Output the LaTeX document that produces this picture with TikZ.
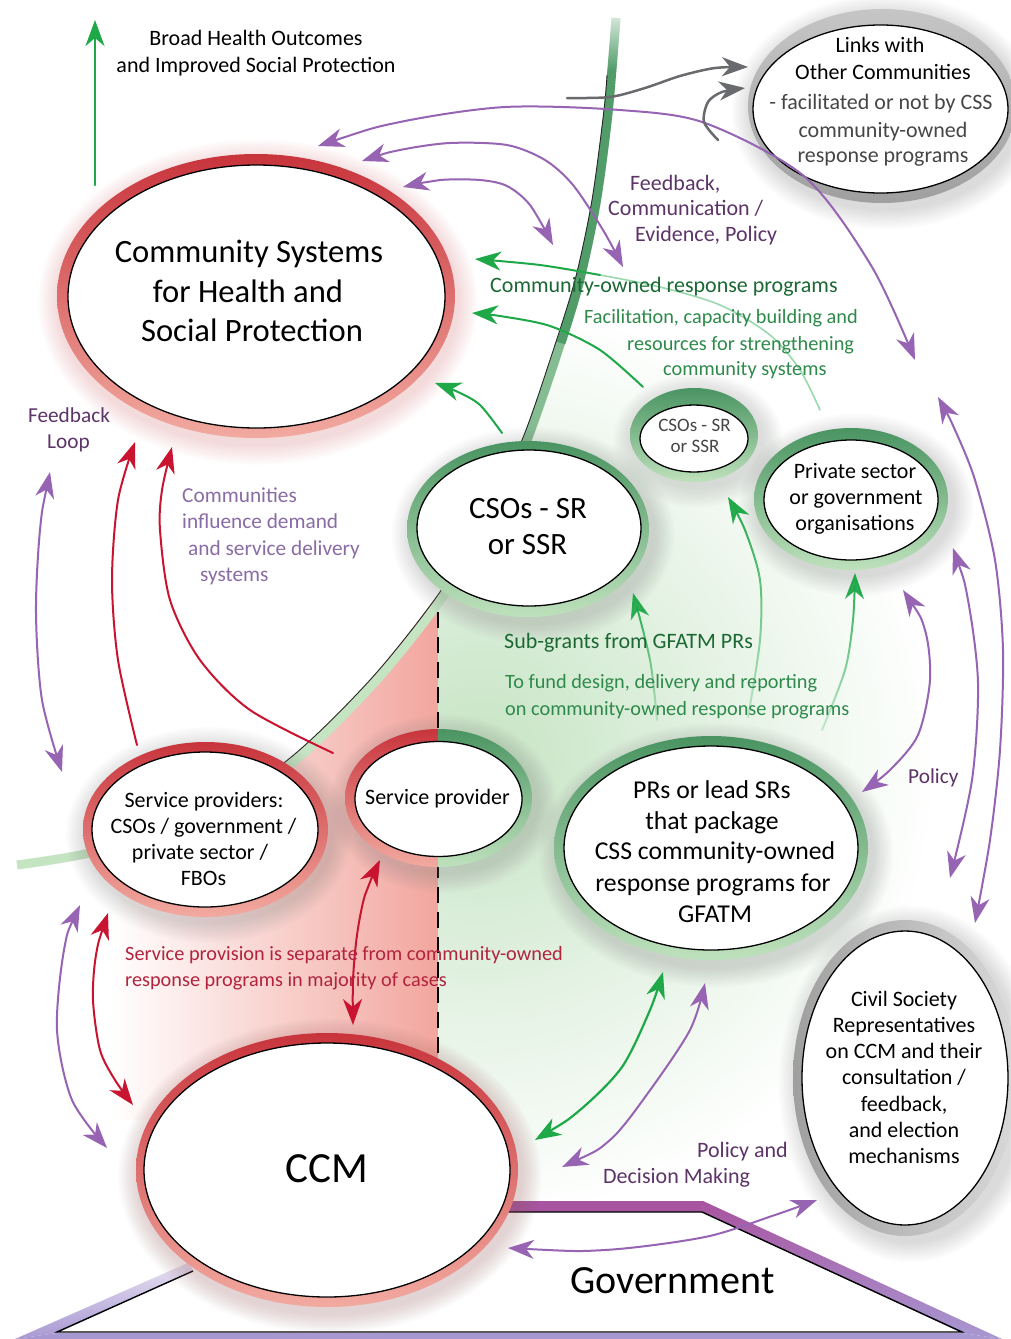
\documentclass[tikz,border=0pt]{standalone}
\usepackage{fontspec}
\setmainfont{Carlito}
\usetikzlibrary{arrows.meta,fadings,shapes.geometric}
\definecolor{agreen}{RGB}{30,168,72}
\definecolor{apurple}{RGB}{150,100,178}
\definecolor{ared}{RGB}{200,20,48}
\definecolor{agray}{RGB}{105,106,110}
\definecolor{tpurple}{RGB}{92,52,104}
\definecolor{tlpurple}{RGB}{138,108,165}
\definecolor{tdgreen}{RGB}{28,104,52}
\definecolor{tgreen}{RGB}{46,138,74}
\definecolor{tred}{RGB}{178,36,62}
\definecolor{tgray}{RGB}{70,70,72}
\definecolor{rdred}{RGB}{200,52,60}
\definecolor{rmid}{RGB}{248,214,200}
\definecolor{rpink}{RGB}{242,170,160}
\definecolor{gdark}{RGB}{74,148,98}
\definecolor{gmid}{RGB}{222,240,218}
\definecolor{gpale}{RGB}{190,225,188}
\definecolor{bandg}{RGB}{196,228,194}
\definecolor{bandgd}{RGB}{82,156,106}
\definecolor{govtop}{RGB}{168,84,160}
\definecolor{govlav}{RGB}{168,152,210}
\definecolor{govpale}{RGB}{232,226,242}
\definecolor{bggreen}{RGB}{198,228,196}
\definecolor{bgsalmon}{RGB}{242,166,158}
\definecolor{bgpeach}{RGB}{250,224,208}
\tikzfading[name=fadebase, top color=transparent!0, bottom color=transparent!80]
\tikzfading[name=topopaque, top color=transparent!0, bottom color=transparent!100]
\newcommand{\myglow}[6]{%
  \foreach \k in {1,...,12}{%
    \pgfmathsetmacro\grx{#3+1.7*\k}%
    \pgfmathsetmacro\gry{#4+1.7*\k}%
    \fill[#5, opacity=#6] (#1,#2) ellipse [x radius=\grx pt, y radius=\gry pt];}}
\tikzset{
  ln/.style={line width=2pt, line cap=round},
  onehead/.style={-{Stealth[length=26pt,width=19pt,inset=8pt]}},
  twohead/.style={{Stealth[length=26pt,width=19pt,inset=8pt]}-{Stealth[length=26pt,width=19pt,inset=8pt]}},
  ringell/.style={ellipse, inner sep=0pt, draw=none},
  redring/.style={top color=rdred, middle color=rmid, bottom color=rpink},
  greenring/.style={top color=gdark, middle color=gmid, bottom color=gpale},
  innerell/.style={ellipse, inner sep=0pt, fill=white, draw=black, line width=1.3pt},
  lbl/.style={inner sep=0pt, anchor=base},
  lblw/.style={inner sep=0pt, anchor=base west},
  f19/.style={font=\fontsize{19}{22}\selectfont},
  f20/.style={font=\fontsize{20.3}{24}\selectfont},
  f21/.style={font=\fontsize{21.3}{25}\selectfont},
  f22/.style={font=\fontsize{22}{26}\selectfont},
  f26/.style={font=\fontsize{25.7}{30}\selectfont},
  f30/.style={font=\fontsize{31}{36}\selectfont},
  fbig/.style={font=\fontsize{32.6}{40}\selectfont},
}
\begin{document}
\begin{tikzpicture}[x=1pt,y=-1pt]
\useasboundingbox (0,0) rectangle (1010,1339);
\fill[white] (0,0) rectangle (1010,1339);

% ---------- background regions ----------
\begin{scope}
 \clip plot[smooth] coordinates {(612,15) (604,110) (592,200) (575,280) (550,360) (522,440) (485,515) (440,592)} -- (438,600) -- (438,1212) -- (1010,1212) -- (1010,0) -- (612,0) -- cycle;
 \shade[inner color=bggreen, outer color=white] (480,760) circle (460pt);
\end{scope}
\begin{scope}
 \clip plot[smooth] coordinates {(440,592) (370,680) (285,762) (190,818) (90,849) (13,862)} -- (13,1120) -- (438,1120) -- (438,592) -- cycle;
 \shade[left color=white, middle color=bgpeach, right color=bgsalmon] (110,580) rectangle (438,1120);
\end{scope}
\draw[line width=1.6pt, dash pattern=on 16pt off 9pt] (438,612) -- (438,1056);

% ---------- boundary band ----------
\draw[bandg, line width=9pt, shift={(4,3)}] plot[smooth] coordinates {(13,862) (90,849) (190,818) (285,762) (370,680) (440,592) (485,515) (522,440) (550,360) (575,280) (592,200) (604,110) (612,15)};
\draw[bandgd!55!bandg, line width=9pt, shift={(4,3)}] plot[smooth] coordinates {(522,440) (550,360) (575,280)};
\draw[bandgd, line width=9pt, shift={(4,3)}] plot[smooth] coordinates {(557,340) (575,280) (592,200) (604,110) (612,15)};
\fill[white, path fading=topopaque] (590,0) rectangle (640,70);
\draw[black!85, line width=0.9pt] plot[smooth] coordinates {(190,818) (285,762) (370,680) (440,592) (485,515) (522,440) (550,360) (575,280) (592,200) (604,110) (607,75)};

% ---------- government ----------
\shade[top color=govpale, bottom color=govlav] (57,1333) -- (193,1271) -- (190,1262) -- (15,1339) -- cycle;
\fill[govlav] (15,1339) -- (57,1333) -- (962,1333) -- (1002,1339) -- cycle;
\fill[govtop] (505,1201) -- (703,1201) -- (702,1212) -- (505,1212) -- cycle;
\shade[top color=govtop, middle color=govpale, bottom color=govlav] (703,1201) -- (1002,1339) -- (962,1333) -- (702,1212) -- cycle;
\draw[line width=1.4pt] (193,1271) -- (57,1332) -- (962,1332) -- (702,1212) -- (505,1212);
\node[lbl, font=\fontsize{40}{48}\selectfont] (gov) at (672.5,1293) {Government};

% ---------- nodes ----------
\myglow{258}{302}{199}{142}{rdred!45}{0.035}
\node[ringell, redring, minimum width=398pt, minimum height=284pt] (cshspR) at (256,296) {};
\node[innerell, minimum width=377pt, minimum height=263pt] (cshsp) at (256.5,296.5) {};

\myglow{886}{112}{134}{97}{gray}{0.025}
\node[ringell, top color=gray!45, middle color=gray!22, bottom color=gray!75, minimum width=268pt, minimum height=194pt] (linksR) at (882,106) {};
\node[innerell, minimum width=255pt, minimum height=168pt] (links) at (880.5,109) {};

\myglow{533}{535}{121}{88}{gray}{0.025}
\node[ringell, greenring, minimum width=242pt, minimum height=176pt] (csoR) at (528,529) {};
\node[innerell, minimum width=224pt, minimum height=156pt] (cso) at (529,528) {};

\myglow{698}{440}{64}{47}{gray}{0.02}
\node[ringell, greenring, minimum width=128pt, minimum height=94pt] (scsoR) at (694,435) {};
\node[innerell, minimum width=108pt, minimum height=67pt] (scso) at (694,438.5) {};

\myglow{856}{505}{97}{71}{gray}{0.025}
\node[ringell, greenring, minimum width=194pt, minimum height=142pt] (psR) at (851,499) {};
\node[innerell, minimum width=174pt, minimum height=120pt] (ps) at (851,500) {};

\myglow{716}{855}{157}{112}{gray}{0.025}
\node[ringell, greenring, minimum width=314pt, minimum height=224pt] (prsR) at (711,848) {};
\node[innerell, minimum width=294pt, minimum height=204pt] (prs) at (711,848) {};

\myglow{443}{804}{93.5}{69}{gray}{0.025}
\begin{scope}
 \clip (330,720) rectangle (438.5,880);
 \shade[top color=rdred, middle color=rmid, bottom color=rpink] (438.5,798) ellipse [x radius=93.5pt, y radius=69pt];
\end{scope}
\begin{scope}
 \clip (438.5,720) rectangle (545,880);
 \shade[top color=gdark, middle color=gmid, bottom color=gpale] (438.5,798) ellipse [x radius=93.5pt, y radius=69pt];
\end{scope}
\node[innerell, minimum width=167pt, minimum height=115pt] (sp) at (438.5,799) {};

\myglow{209}{835}{122.5}{87.5}{gray}{0.025}
\node[ringell, redring, minimum width=245pt, minimum height=175pt] (spsR) at (205.5,829.5) {};
\node[innerell, minimum width=226pt, minimum height=155pt] (sps) at (205,829.5) {};

\myglow{330}{1176}{191}{137}{rdred!40!gray}{0.025}
\node[ringell, redring, minimum width=382pt, minimum height=274pt] (ccmR) at (327,1170) {};
\node[innerell, minimum width=366pt, minimum height=254pt] (ccm) at (327,1170) {};

\myglow{911}{1084}{112}{158}{gray}{0.025}
\node[ringell, left color=gray!75, right color=gray!30, minimum width=224pt, minimum height=316pt] (csrR) at (905,1078) {};
\node[innerell, minimum width=206pt, minimum height=294pt] (csr) at (905,1078) {};

% ---------- node texts ----------
\node[lbl, fbig] (cs1) at (249,262) {Community Systems};
\node[lbl, fbig] (cs2) at (248,302) {for Health and};
\node[lbl, fbig] (cs3) at (252,341) {Social Protection};

\node[lbl, f22] (lk1) at (880,52) {Links with};
\node[lbl, f22] (lk2) at (883,79) {Other Communities};
\node[lbl, f22, tgray] (lk3) at (881,109) {- facilitated or not by CSS};
\node[lbl, f22, tgray] (lk4) at (883,137) {community-owned};
\node[lbl, f22, tgray] (lk5) at (883,162) {response programs};

\node[lbl, f30] (cso1) at (528,518) {CSOs - SR};
\node[lbl, f30] (cso2) at (527.5,554) {or SSR};

\node[lbl, f19, tgray] (sc1) at (694.5,431) {CSOs - SR};
\node[lbl, f19, tgray] (sc2) at (695,452) {or SSR};

\node[lbl, f22] (ps1) at (855,478) {Private sector};
\node[lbl, f22] (ps2) at (856,504) {or government};
\node[lbl, f22] (ps3) at (855,530) {organisations};

\node[lbl, f26] (pr1) at (712,798) {PRs or lead SRs};
\node[lbl, f26] (pr2) at (712,829) {that package};
\node[lbl, f26] (pr3) at (715,859) {CSS community-owned};
\node[lbl, f26] (pr4) at (713,891) {response programs for};
\node[lbl, f26] (pr5) at (715,922) {GFATM};

\node[lbl, f22] (spt) at (437.5,804) {Service provider};

\node[lbl, f22] (sps1) at (204,807) {Service providers:};
\node[lbl, f22] (sps2) at (203.5,833) {CSOs / government /};
\node[lbl, f22] (sps3) at (200,859) {private sector /};
\node[lbl, f22] (sps4) at (203.5,885) {FBOs};

\node[lbl, font=\fontsize{43}{50}\selectfont] (ccmt) at (326.5,1182) {CCM};

\node[lbl, f22] (cr1) at (904,1006) {Civil Society};
\node[lbl, f22] (cr2) at (904,1032) {Representatives};
\node[lbl, f22] (cr3) at (904,1058) {on CCM and their};
\node[lbl, f22] (cr4) at (904,1084) {consultation /};
\node[lbl, f22] (cr5) at (904,1111) {feedback,};
\node[lbl, f22] (cr6) at (904,1137) {and election};
\node[lbl, f22] (cr7) at (904,1163) {mechanisms};

% ---------- connectors ----------
\coordinate (g0a) at (95,185); \coordinate (g0b) at (95,20);
\draw[ln, agreen, line width=2.2pt, onehead] (g0a) -- (g0b);

\coordinate (p1a) at (318,146); \coordinate (p1b) at (915,360);
\draw[ln, apurple, twohead] plot[smooth] coordinates {(p1a) (400,122) (505,107) (620,110) (705,123) (805,177) (872,267) (p1b)};
\coordinate (p2a) at (362,161); \coordinate (p2b) at (623,267);
\draw[ln, apurple, twohead] plot[smooth] coordinates {(p2a) (400,150) (450,143) (507,145) (545,160) (573,185) (603,230) (p2b)};
\coordinate (p3a) at (403,187); \coordinate (p3b) at (553,245);
\draw[ln, apurple, twohead] plot[smooth] coordinates {(p3a) (440,180) (480,180) (507,186) (530,205) (p3b)};
\coordinate (p4a) at (938,397); \coordinate (p4b) at (975,923);
\draw[ln, apurple, twohead] plot[smooth] coordinates {(p4a) (955,430) (975,480) (995,560) (1003,650) (1000,750) (990,840) (p4b)};
\coordinate (p5a) at (953,548); \coordinate (p5b) at (950,878);
\draw[ln, apurple, twohead] plot[smooth] coordinates {(p5a) (968,600) (978,683) (972,780) (p5b)};
\coordinate (p6a) at (903,590); \coordinate (p6b) at (862,792);
\draw[ln, apurple, twohead] plot[smooth] coordinates {(p6a) (925,630) (930,680) (918,735) (890,770) (p6b)};
\coordinate (p7a) at (562,1167); \coordinate (p7b) at (705,983);
\draw[ln, apurple, twohead] plot[smooth] coordinates {(p7a) (610,1140) (648,1093) (690,1030) (p7b)};
\coordinate (p8a) at (508,1248); \coordinate (p8b) at (817,1200);
\draw[ln, apurple, twohead] plot[smooth] coordinates {(p8a) (605,1250) (705,1237) (772,1216) (p8b)};
\coordinate (p9a) at (50,472); \coordinate (p9b) at (62,772);
\draw[ln, apurple, twohead] plot[smooth] coordinates {(p9a) (40,530) (36,613) (42,700) (p9b)};
\coordinate (p10a) at (80,905); \coordinate (p10b) at (107,1148);
\draw[ln, apurple, twohead] plot[smooth] coordinates {(p10a) (64,950) (57,1030) (72,1100) (p10b)};

\coordinate (r1a) at (137,745); \coordinate (r1b) at (135,442);
\draw[ln, ared, onehead] plot[smooth] coordinates {(r1a) (118,660) (112,580) (118,500) (r1b)};
\coordinate (r2a) at (333,753); \coordinate (r2b) at (172,447);
\draw[ln, ared, onehead] plot[smooth] coordinates {(r2a) (250,710) (200,660) (170,600) (160,530) (162,490) (r2b)};
\coordinate (r3a) at (380,860); \coordinate (r3b) at (353,1025);
\draw[ln, ared, twohead] plot[smooth] coordinates {(r3a) (365,895) (357,935) (353,980) (r3b)};
\coordinate (r4a) at (108,913); \coordinate (r4b) at (133,1105);
\draw[ln, ared, twohead] plot[smooth] coordinates {(r4a) (96,955) (93,1000) (100,1050) (115,1080) (r4b)};

\coordinate (g1a) at (820,410); \coordinate (g1m) at (600,275); \coordinate (g1b) at (475,259);
\draw[ln, agreen!45, line width=1.6pt] plot[smooth] coordinates {(g1a) (800,370) (770,335) (720,305) (660,287) (g1m)};
\draw[ln, agreen, onehead] plot[smooth] coordinates {(g1m) (540,265) (g1b)};
\coordinate (g2a) at (643,387); \coordinate (g2b) at (472,313);
\draw[ln, agreen, onehead] plot[smooth] coordinates {(g2a) (600,350) (550,326) (500,316) (g2b)};
\coordinate (g3a) at (502,433); \coordinate (g3b) at (435,383);
\draw[ln, agreen, onehead] plot[smooth] coordinates {(g3a) (480,405) (458,392) (g3b)};
\coordinate (g4a) at (657,720); \coordinate (g4b) at (633,593);
\draw[ln, agreen, onehead, path fading=fadebase] plot[smooth] coordinates {(g4a) (650,660) (g4b)};
\coordinate (g5a) at (748,717); \coordinate (g5b) at (728,497);
\draw[ln, agreen, onehead, path fading=fadebase] plot[smooth] coordinates {(g5a) (760,640) (760,580) (745,530) (g5b)};
\coordinate (g6a) at (822,730); \coordinate (g6b) at (855,573);
\draw[ln, agreen, onehead, path fading=fadebase] plot[smooth] coordinates {(g6a) (845,670) (853,620) (g6b)};
\coordinate (g7a) at (535,1140); \coordinate (g7b) at (663,972);
\draw[ln, agreen, line width=2.2pt, twohead] plot[smooth] coordinates {(g7a) (580,1110) (622,1067) (650,1010) (g7b)};

\coordinate (y1a) at (567,98); \coordinate (y1b) at (748,67);
\draw[ln, agray, line width=2.5pt, onehead] plot[smooth] coordinates {(y1a) (610,97) (645,88) (680,76) (715,68) (y1b)};
\coordinate (y2a) at (718,140); \coordinate (y2b) at (745,88);
\draw[ln, agray, line width=2.5pt, onehead] plot[smooth] coordinates {(y2a) (704,122) (708,102) (722,92) (y2b)};

% ---------- labels ----------
\node[lbl, f22] (bho1) at (256,45) {Broad Health Outcomes};
\node[lbl, f22] (bho2) at (256,72) {and Improved Social Protection};
\node[lbl, f21, tpurple] (fl1) at (69,422) {Feedback};
\node[lbl, f21, tpurple] (fl2) at (68.5,448) {Loop};
\node[lblw, f21, tlpurple] (ci1) at (182,502) {Communities};
\node[lblw, f21, tlpurple] (ci2) at (182,528) {influence demand};
\node[lblw, f21, tlpurple] (ci3) at (188,555) {and service delivery};
\node[lblw, f21, tlpurple] (ci4) at (200,581) {systems};
\node[lblw, f22, tpurple] (fc1) at (630,190) {Feedback,};
\node[lblw, f22, tpurple] (fc2) at (608,215) {Communication /};
\node[lblw, f22, tpurple] (fc3) at (635,241) {Evidence, Policy};
\node[lblw, f22, tdgreen] (cor) at (490,292) {Community-owned response programs};
\node[lblw, f20, tgreen] (fa1) at (584,323) {Facilitation, capacity building and};
\node[lblw, f20, tgreen] (fa2) at (627,350) {resources for strengthening};
\node[lblw, f20, tgreen] (fa3) at (663,375) {community systems};
\node[lblw, f22, tdgreen] (sg) at (504,648) {Sub-grants from GFATM PRs};
\node[lblw, f20, tgreen] (tf1) at (505,688) {To fund design, delivery and reporting};
\node[lblw, f20, tgreen] (tf2) at (505,715) {on community-owned response programs};
\node[lblw, f21, tpurple] (pol) at (908,783) {Policy};
\node[lblw, f20, tred] (spv1) at (125,960) {Service provision is separate from community-owned};
\node[lblw, f20, tred] (spv2) at (125,986) {response programs in majority of cases};
\node[lblw, f22, tpurple] (pd1) at (697,1157) {Policy and};
\node[lblw, f22, tpurple] (pd2) at (603,1183) {Decision Making};
\end{tikzpicture}
\end{document}
